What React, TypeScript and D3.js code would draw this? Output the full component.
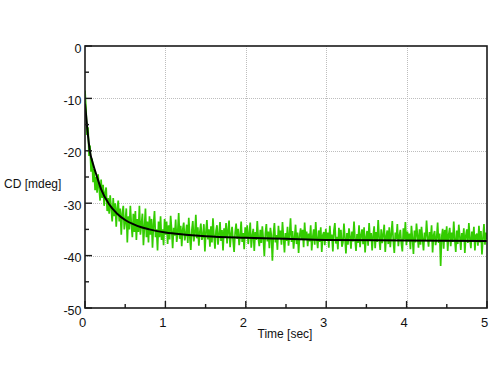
import React, { useEffect, useRef } from "react";
import * as d3 from "d3";

// Axis ticks
const xTicks = [0, 1, 2, 3, 4, 5];
const yTicks = [0, -10, -20, -30, -40, -50];
const xMinor = [0.5, 1.5, 2.5, 3.5, 4.5];
const yMinor = [-5, -15, -25, -35, -45];

// Fitted curve (time in sec, CD in mdeg)
const fitTime = [0, 0.03, 0.06, 0.1, 0.15, 0.2, 0.3, 0.4, 0.5, 0.6, 0.7, 0.8, 1.0, 1.25, 1.5, 2, 2.5, 3, 4, 5];
const fitCD = [-11, -16, -20, -22.5, -25, -27.3, -30.2, -32, -33.2, -34, -34.6, -35, -35.6, -36, -36.3, -36.6, -36.8, -37, -37.1, -37.2];

// Measured trace, evenly sampled from 0 to 5 sec
const traceCD = [
  -8.5, -12, -17, -15.5, -21, -19, -24, -21.5, -26,
  -23.5, -27.5, -25, -28, -24.5, -27, -29.5, -25.5,
  -29, -26.5, -30.5, -28, -27, -31.5, -29, -32,
  -28.5, -31, -33.5, -29, -32.5, -30, -34.5, -31,
  -29.5, -33.5, -31, -36, -32, -30.5, -35, -33.5,
  -31, -37.5, -32.5, -35, -30.5, -34, -36.5, -32,
  -35.5, -31.5, -37, -33, -35.5, -30.5, -36, -34,
  -32, -38, -34.5, -31, -36.5, -33.5, -37.5, -32.5,
  -36, -33, -38.5, -34, -31.5, -36.5, -35, -39,
  -33.5, -36.5, -32.5, -37, -35, -38, -33, -36,
  -33.5, -37.8, -34.2, -36.9, -32.4, -35.1, -38.6, -34.7, -36.2, -33.1, -37.4, -35.6, -31.9, -36.8, -34.3, -38.2, -35.0, -33.7, -37.1, -35.9,
  -34.1, -37.6, -32.8, -36.4, -38.9, -35.2, -33.4, -37.3, -35.8, -32.2, -36.7, -34.6, -38.1, -35.4, -33.9, -37.0, -36.3, -34.0, -39.2, -35.5,
  -33.2, -36.9, -35.0, -38.3, -34.4, -37.5, -32.9, -36.1, -38.7, -35.3, -34.2, -37.9, -36.0, -33.6, -37.2, -35.1, -39.0, -34.8, -36.6, -33.8,
  -37.7, -35.2, -33.3, -38.4, -36.0, -34.5, -37.1, -39.3, -35.6, -33.9, -36.8, -34.9, -38.0, -36.2, -33.5, -37.4, -35.7, -38.8, -34.6, -36.5,
  -34.2, -37.8, -35.9, -33.7, -38.5, -36.3, -34.9, -39.1, -35.5, -37.0, -33.4, -36.7, -38.2, -35.1, -37.6, -34.4, -36.9, -40.1, -35.8, -34.0,
  -37.3, -35.4, -38.6, -34.7, -36.2, -41.0, -35.9, -33.8, -37.5, -36.1, -38.9, -34.3, -36.8, -35.2, -37.9, -33.6, -36.4, -39.4, -35.7, -37.2,
  -34.5, -38.1, -36.0, -32.9, -37.4, -35.3, -38.7, -36.6, -34.1, -37.8, -35.6, -39.5, -36.3, -34.8, -37.0, -35.1, -38.4, -33.7, -36.9, -35.4,
  -38.2, -35.8, -37.3, -34.2, -39.0, -36.5, -35.0, -37.9, -33.6, -36.8, -38.6, -35.2, -37.4, -34.6, -39.3, -36.1, -35.5, -38.0, -34.9, -37.2,
  -35.6, -38.5, -34.3, -37.1, -36.0, -39.2, -35.3, -33.8, -37.7, -36.4, -38.8, -34.7, -36.9, -35.1, -38.3, -37.5, -33.9, -36.6, -39.6, -35.7,
  -37.9, -34.8, -36.3, -38.7, -35.4, -37.3, -33.5, -36.8, -39.1, -35.9, -37.6, -34.2, -38.4, -36.1, -35.0, -37.8, -34.6, -39.4, -36.5, -35.3,
  -38.1, -33.8, -37.0, -35.7, -39.0, -36.2, -34.4, -38.6, -35.5, -37.4, -33.2, -36.7, -38.9, -35.0, -37.6, -36.0, -34.1, -39.3, -36.4, -35.2,
  -37.8, -34.6, -38.4, -35.9, -33.4, -37.2, -39.5, -35.6, -36.8, -34.0, -38.2, -36.3, -35.1, -37.7, -39.2, -34.8, -36.9, -33.6, -38.0, -35.4,
  -37.3, -35.8, -38.8, -34.3, -36.6, -39.7, -35.2, -37.5, -33.9, -36.2, -38.5, -35.0, -37.9, -34.5, -36.8, -39.0, -35.6, -37.1, -33.3, -36.4,
  -38.3, -35.5, -37.0, -34.2, -39.4, -36.1, -35.3, -38.0, -36.7, -33.7, -37.6, -35.8, -42.0, -36.5, -34.9, -38.7, -35.1, -37.3, -34.4, -39.1,
  -36.0, -34.7, -38.2, -35.6, -37.4, -33.5, -36.9, -39.3, -35.2, -37.8, -34.1, -36.3, -38.9, -35.7, -37.1, -34.8, -39.5, -36.2, -35.0, -37.6,
  -33.8, -36.7, -38.6, -35.4, -37.2, -34.5, -39.0, -36.1, -35.8, -38.1, -34.3, -37.5, -35.3, -39.8, -36.6, -34.0, -37.9, -35.6, -36.9,
];

const X_LABEL = "Time [sec]";
const Y_LABEL = "CD [mdeg]";

const W = 500;
const H = 375;
const left = 85;
const right = 487;
const top = 46;
const bottom = 308;

export default function App() {
  const ref = useRef<SVGSVGElement>(null);

  useEffect(() => {
    const svg = d3.select(ref.current);
    svg.selectAll("*").remove();

    const x = d3.scaleLinear().domain([0, 5]).range([left, right]);
    const y = d3.scaleLinear().domain([-50, 0]).range([bottom, top]);
    const font = "'Liberation Sans', Arial, sans-serif";

    svg.append("rect").attr("width", W).attr("height", H).attr("fill", "#ffffff");

    // grid
    const grid = svg.append("g").attr("stroke", "#bdbdbd").attr("stroke-width", 1).attr("stroke-dasharray", "1,1");
    xTicks.filter((t) => t > 0 && t < 5).forEach((t) => {
      grid.append("line").attr("x1", Math.round(x(t)) + 0.5).attr("x2", Math.round(x(t)) + 0.5).attr("y1", top).attr("y2", bottom);
    });
    yTicks.filter((t) => t < 0 && t > -50).forEach((t) => {
      grid.append("line").attr("y1", Math.round(y(t)) + 0.5).attr("y2", Math.round(y(t)) + 0.5).attr("x1", left).attr("x2", right);
    });

    // clip
    svg.append("clipPath").attr("id", "clip").append("rect")
      .attr("x", left).attr("y", top).attr("width", right - left).attr("height", bottom - top);

    const n = traceCD.length;
    const traceLine = d3.line<number>()
      .x((_, i) => x((i * 5) / (n - 1)))
      .y((d) => y(d));
    svg.append("path")
      .attr("clip-path", "url(#clip)")
      .attr("d", traceLine(traceCD) as string)
      .attr("fill", "none")
      .attr("stroke", "#33cc00")
      .attr("stroke-width", 1.7)
      .attr("stroke-linejoin", "bevel");

    const fitLine = d3.line<number>()
      .x((_, i) => x(fitTime[i]))
      .y((d) => y(d))
      .curve(d3.curveMonotoneX);
    svg.append("path")
      .attr("clip-path", "url(#clip)")
      .attr("d", fitLine(fitCD) as string)
      .attr("fill", "none")
      .attr("stroke", "#000000")
      .attr("stroke-width", 2);

    // frame
    svg.append("rect")
      .attr("x", left).attr("y", top).attr("width", right - left).attr("height", bottom - top)
      .attr("fill", "none").attr("stroke", "#1a1a1a").attr("stroke-width", 1.6);

    // ticks
    const tk = svg.append("g").attr("stroke", "#1a1a1a").attr("stroke-width", 1.4);
    xTicks.forEach((t) => {
      tk.append("line").attr("x1", x(t)).attr("x2", x(t)).attr("y1", bottom).attr("y2", bottom - 7);
    });
    xMinor.forEach((t) => {
      tk.append("line").attr("x1", x(t)).attr("x2", x(t)).attr("y1", bottom).attr("y2", bottom - 4);
    });
    yTicks.forEach((t) => {
      tk.append("line").attr("y1", y(t)).attr("y2", y(t)).attr("x1", left).attr("x2", left + 7);
    });
    yMinor.forEach((t) => {
      tk.append("line").attr("y1", y(t)).attr("y2", y(t)).attr("x1", left).attr("x2", left + 4);
    });

    // tick labels
    xTicks.forEach((t) => {
      svg.append("text").attr("x", x(t) - 2.5).attr("y", bottom + 19)
        .attr("text-anchor", "middle").attr("font-family", font).attr("font-size", 13)
        .attr("fill", "#111").text(String(t));
    });
    yTicks.forEach((t) => {
      svg.append("text").attr("x", left - 3.5).attr("y", y(t) + 6.5)
        .attr("text-anchor", "end").attr("font-family", font).attr("font-size", 12.5)
        .attr("fill", "#111").text(String(t));
    });

    svg.append("text").attr("x", 285).attr("y", 338)
      .attr("text-anchor", "middle").attr("font-family", font).attr("font-size", 12)
      .attr("fill", "#111").text(X_LABEL);
    svg.append("text").attr("x", 4).attr("y", 188)
      .attr("text-anchor", "start").attr("font-family", font).attr("font-size", 12)
      .attr("fill", "#111").text(Y_LABEL);
  }, []);

  return (
    <svg
      ref={ref}
      width={W}
      height={H}
      style={{ position: "absolute", left: 0, top: 0, display: "block" }}
    />
  );
}
